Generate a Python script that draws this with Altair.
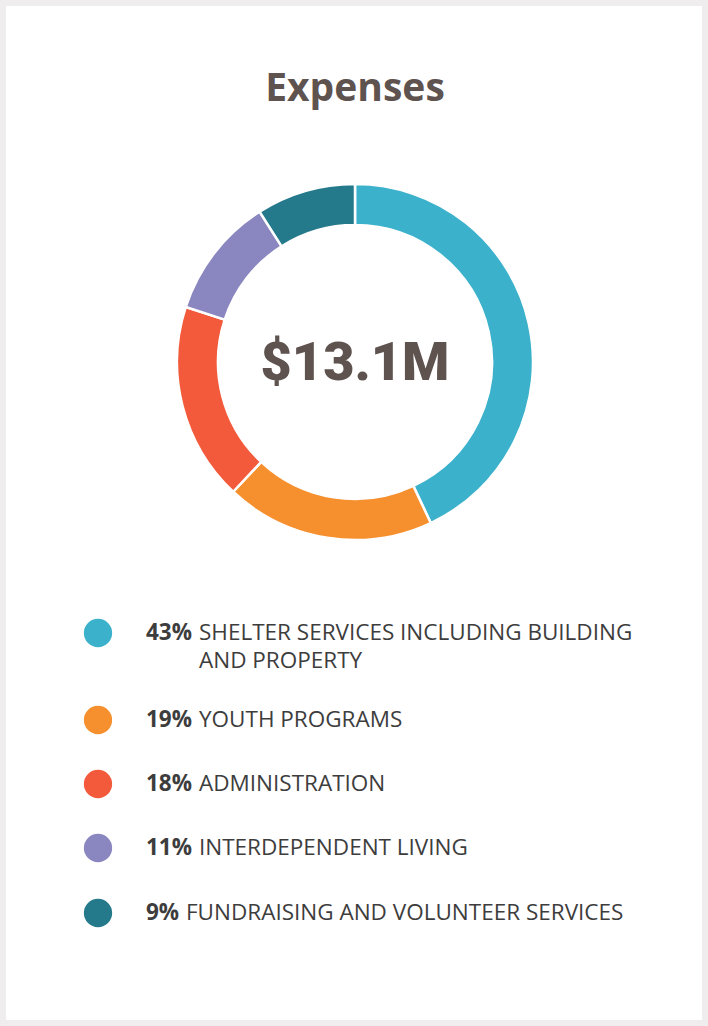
import altair as alt
import pandas as pd

title_text = "Expenses"
total_text = "$13.1M"
categories = [
    "SHELTER SERVICES INCLUDING BUILDING AND PROPERTY",
    "YOUTH PROGRAMS",
    "ADMINISTRATION",
    "INTERDEPENDENT LIVING",
    "FUNDRAISING AND VOLUNTEER SERVICES",
]
label_lines = [
    ["SHELTER SERVICES INCLUDING BUILDING", "AND PROPERTY"],
    ["YOUTH PROGRAMS"],
    ["ADMINISTRATION"],
    ["INTERDEPENDENT LIVING"],
    ["FUNDRAISING AND VOLUNTEER SERVICES"],
]
percents = [43, 19, 18, 11, 9]
colors = ["#3bb1cb", "#f68f2d", "#f25a3b", "#8a86bf", "#24798b"]

df = pd.DataFrame({
    "idx": list(range(len(categories))),
    "category": categories,
    "lines": label_lines,
    "value": percents,
    "pct": [f"{p}%" for p in percents],
})

W, H = 696, 1014
cx, cy = 349, 356
FS = 22.5

color_scale = alt.Scale(domain=categories, range=colors)

donut = alt.Chart(df).mark_arc(radius=178, radius2=137, stroke="white", strokeWidth=2.5).encode(
    theta=alt.Theta("value:Q", stack=True),
    order=alt.Order("idx:Q"),
    color=alt.Color("category:N", scale=color_scale, legend=None),
    x=alt.value(cx),
    y=alt.value(cy),
)

title = alt.Chart(pd.DataFrame({"t": [title_text]})).mark_text(
    font="Open Sans", fontWeight="bold", fontSize=39, color="#5e534f", baseline="middle"
).encode(text="t:N", x=alt.value(cx), y=alt.value(83))

center = alt.Chart(pd.DataFrame({"t": [total_text]})).mark_text(
    font="Roboto", fontWeight=900, fontSize=54, color="#5e534f", baseline="middle"
).encode(text="t:N", x=alt.value(cx), y=alt.value(358))

yscale = alt.Scale(domain=[0, 1, 2, 3, 4], range=[627, 714, 778, 842, 907])

dots = alt.Chart(df).mark_circle(size=800, opacity=1).encode(
    x=alt.value(92),
    y=alt.Y("idx:Q", scale=yscale, axis=None),
    color=alt.Color("category:N", scale=color_scale, legend=None),
)

pct_text = alt.Chart(df).mark_text(
    font="Open Sans", fontWeight="bold", fontSize=FS, color="#3d3d3d", align="left",
    baseline="top", dy=-0.49 * FS
).encode(
    x=alt.value(140),
    y=alt.Y("idx:Q", scale=yscale, axis=None),
    text="pct:N",
)

label_text = alt.Chart(df).transform_calculate(
    lx="140 + 13 * length(datum.pct) + 14"
).mark_text(
    font="Open Sans", fontSize=FS, color="#3d3d3d", align="left", baseline="top",
    lineHeight=28.5, dy=-0.49 * FS
).encode(
    x=alt.X("lx:Q", scale=None, axis=None),
    y=alt.Y("idx:Q", scale=yscale, axis=None),
    text="lines",
)

chart = alt.layer(donut, title, center, dots, pct_text, label_text).properties(
    width=W, height=H, padding=6, background="#efeded",
    autosize=alt.AutoSizeParams(type="none"),
).configure_view(stroke=None, fill="white")

chart.save("out.html", embed_options={"renderer": "svg", "actions": False})
